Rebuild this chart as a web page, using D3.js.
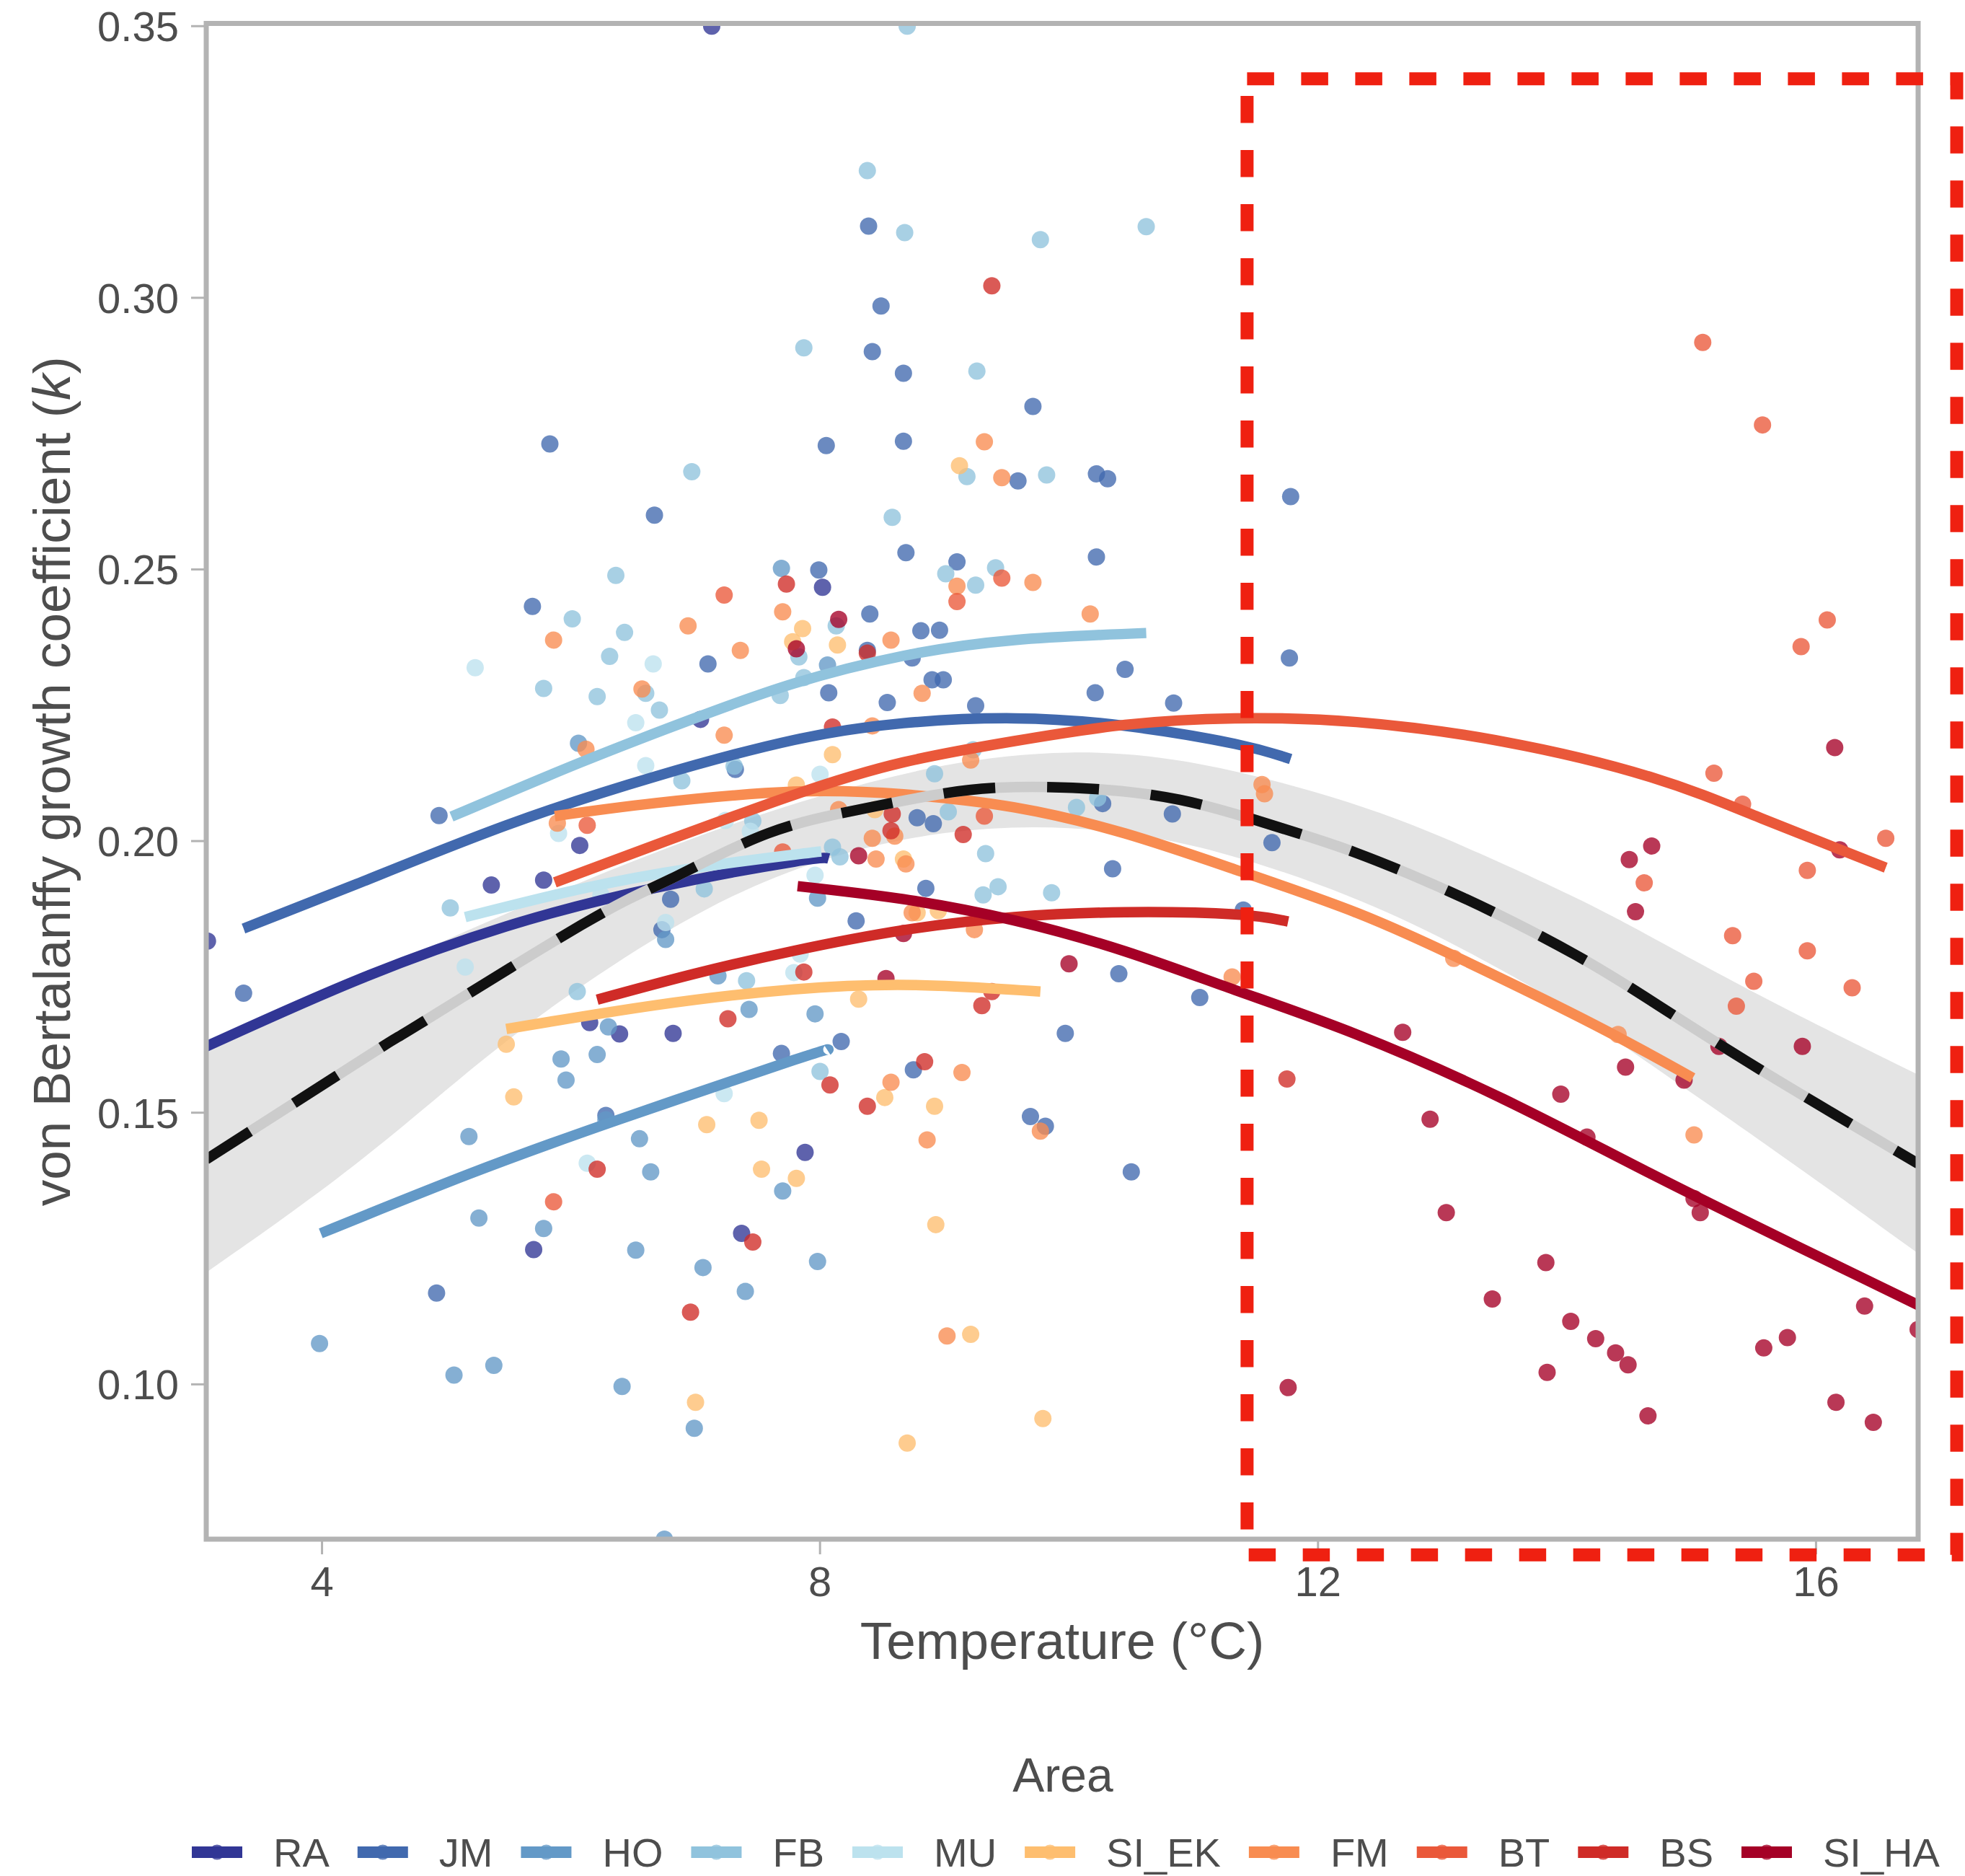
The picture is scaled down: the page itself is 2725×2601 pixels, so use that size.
<!DOCTYPE html>
<html>
<head>
<meta charset="UTF-8">
<title>von Bertalanffy k vs temperature</title>
<script src="https://cdnjs.cloudflare.com/ajax/libs/d3/7.8.5/d3.min.js"></script>
<style>
  body { margin: 0; padding: 0; background: #fff; }
  text { font-family: "Liberation Sans", Arial, Helvetica, sans-serif; fill: #4d4d4d; }
</style>
</head>
<body>
<div id="chart"></div>
<script>
// areas and colours (legend order)
const areas = ["RA", "JM", "HO", "FB", "MU", "SI_EK", "FM", "BT", "BS", "SI_HA"];
const areaColors = ["#313695", "#4169ae", "#6399c7", "#90c3dd", "#bce2ee",
                    "#febe6f", "#f88c51", "#ea583a", "#cf2b27", "#a50026"];

const xTicks = [4, 8, 12, 16];
const yTicks = [0.10, 0.15, 0.20, 0.25, 0.30, 0.35];

// observations: [temperature, k]
const ptsRA = [[7.13,0.3500],[7.04,0.2224],[6.07,0.1992],[5.36,0.1919],[5.78,0.1928],[3.08,0.1816],
  [6.15,0.1666],[6.39,0.1645],[6.82,0.1646],[8.02,0.2467],[5.70,0.1248],[7.37,0.1278],[7.88,0.1427]];
const ptsJM = [[5.83,0.2731],[6.67,0.2600],[8.39,0.3132],[8.49,0.2985],[8.42,0.2901],[8.67,0.2861],
  [9.71,0.2800],[8.05,0.2728],[8.67,0.2736],[9.59,0.2663],[10.22,0.2676],[10.31,0.2667],[11.78,0.2634],
  [5.69,0.2432],[7.10,0.2326],[7.32,0.2132],[4.94,0.2047],[6.80,0.1893],[6.73,0.1837],[3.37,0.1720],
  [8.69,0.2531],[7.99,0.2499],[9.10,0.2514],[10.22,0.2523],[8.40,0.2418],[8.38,0.2351],[8.81,0.2387],
  [8.96,0.2388],[8.74,0.2337],[8.07,0.2273],[8.90,0.2297],[8.99,0.2297],[8.54,0.2255],[9.25,0.2249],
  [10.45,0.2316],[10.21,0.2273],[10.84,0.2254],[11.77,0.2337],[8.78,0.2043],[8.91,0.2032],[10.27,0.2069],
  [10.83,0.2050],[11.63,0.1997],[10.35,0.1949],[8.85,0.1913],[8.29,0.1853],[11.40,0.1873],[10.40,0.1756],
  [11.05,0.1712],[8.17,0.1631],[9.97,0.1646],[7.69,0.1609],[6.28,0.1495],[4.92,0.1168],[8.75,0.1579],
  [9.69,0.1493],[9.81,0.1475],[10.50,0.1391]];
const ptsHO = [[7.69,0.2502],[6.06,0.2180],[6.76,0.1819],[7.18,0.1752],[7.43,0.1690],[6.30,0.1658],
  [8.06,0.2324],[7.98,0.1895],[7.96,0.1682],[5.92,0.1599],[6.21,0.1607],[5.96,0.1560],[6.28,0.1487],
  [5.18,0.1456],[6.55,0.1452],[6.64,0.1391],[7.70,0.1356],[5.26,0.1306],[5.78,0.1287],[6.52,0.1247],
  [7.06,0.1215],[7.40,0.1171],[3.98,0.1075],[5.06,0.1017],[5.38,0.1035],[6.41,0.0996],[6.99,0.0919],
  [6.75,0.0715],[7.98,0.1226]];
const ptsFB = [[6.97,0.2680],[8.70,0.3500],[8.38,0.3234],[8.68,0.3120],[9.77,0.3107],[10.62,0.3131],
  [7.87,0.2908],[9.26,0.2865],[9.18,0.2671],[9.82,0.2674],[8.58,0.2596],[6.36,0.2489],[6.01,0.2409],
  [6.43,0.2384],[6.31,0.2340],[5.78,0.2281],[6.21,0.2266],[6.60,0.2272],[6.71,0.2241],[7.68,0.2268],
  [7.31,0.2138],[6.89,0.2111],[7.46,0.2037],[5.03,0.1877],[7.07,0.1912],[7.41,0.1743],[6.05,0.1723],
  [9.01,0.2492],[9.41,0.2503],[9.25,0.2471],[8.13,0.2396],[7.83,0.2339],[7.87,0.2301],[9.23,0.2168],
  [8.92,0.2124],[9.03,0.2054],[10.06,0.2062],[10.23,0.2079],[8.10,0.1989],[8.16,0.1971],[9.33,0.1977],
  [9.43,0.1916],[9.31,0.1901],[9.86,0.1905],[8.00,0.1576]];
const ptsMU = [[5.23,0.2319],[6.66,0.2326],[6.52,0.2218],[6.60,0.2139],[5.90,0.2014],[7.24,0.2038],
  [7.44,0.2018],[6.24,0.1901],[6.76,0.1850],[5.15,0.1768],[7.79,0.1758],[8.00,0.2123],[7.96,0.1937],
  [7.84,0.1792],[7.23,0.1535],[6.13,0.1407]];
const ptsSI_EK = [[9.12,0.2691],[7.78,0.2367],[5.48,0.1626],[7.86,0.2391],[8.14,0.2361],[8.10,0.2159],
  [7.81,0.2103],[8.44,0.2058],[8.67,0.1967],[8.78,0.1868],[8.95,0.1872],[8.31,0.1709],[5.54,0.1529],
  [7.09,0.1478],[7.51,0.1486],[7.53,0.1396],[7.81,0.1379],[7.00,0.0967],[8.52,0.1528],[8.92,0.1512],
  [8.93,0.1294],[9.21,0.1092],[9.79,0.0937],[8.70,0.0892]];
const ptsFM = [[9.32,0.2735],[9.46,0.2669],[7.70,0.2422],[5.86,0.2370],[6.94,0.2396],[7.36,0.2351],
  [6.57,0.2280],[7.23,0.2195],[6.12,0.2169],[5.89,0.2033],[7.33,0.1953],[9.10,0.2469],[9.71,0.2476],
  [8.57,0.2370],[10.17,0.2418],[8.82,0.2272],[8.42,0.2212],[9.21,0.2149],[8.15,0.2058],[8.60,0.2009],
  [8.42,0.2005],[11.55,0.2104],[11.57,0.2087],[8.45,0.1967],[8.69,0.1958],[8.74,0.1868],[9.24,0.1837],
  [11.31,0.1750],[8.57,0.1556],[9.14,0.1574],[9.77,0.1466],[8.86,0.1450],[9.02,0.1089],[13.09,0.1784],
  [14.41,0.1644],[15.02,0.1459]];
const ptsBT = [[7.23,0.2453],[6.13,0.2029],[7.70,0.1980],[9.46,0.2484],[9.10,0.2441],[9.32,0.2046],
  [5.86,0.1336],[16.09,0.2407],[15.88,0.2358],[15.18,0.2125],[15.41,0.2068],[16.56,0.2005],[14.62,0.1923],
  [15.93,0.1946],[15.33,0.1826],[15.93,0.1798],[15.50,0.1742],[16.29,0.1730],[15.36,0.1696],
  [15.09,0.2918],[15.57,0.2766]];
const ptsBS = [[9.38,0.3022],[7.73,0.2473],[7.26,0.1673],[8.38,0.2346],[8.10,0.2210],[8.58,0.2050],
  [8.57,0.2019],[9.15,0.2012],[7.87,0.1759],[9.38,0.1723],[9.30,0.1697],[6.21,0.1396],[7.46,0.1262],
  [6.96,0.1133],[8.08,0.1551],[8.84,0.1594],[8.38,0.1512],[11.75,0.1562]];
const ptsSI_HA = [[7.81,0.2354],[8.15,0.2408],[8.31,0.1973],[8.67,0.1830],[10.00,0.1774],[8.53,0.1747],
  [11.76,0.0994],[16.15,0.2172],[16.19,0.1984],[14.68,0.1991],[14.50,0.1966],[14.55,0.1870],[12.68,0.1648],
  [12.90,0.1488],[13.03,0.1316],[13.95,0.1534],[14.16,0.1455],[14.47,0.1584],[14.94,0.1560],[15.22,0.1622],
  [15.89,0.1622],[15.02,0.1342],[15.07,0.1316],[13.83,0.1224],[13.40,0.1157],[14.03,0.1116],[14.23,0.1084],
  [14.39,0.1058],[14.49,0.1036],[13.84,0.1022],[14.65,0.0942],[15.58,0.1067],[15.77,0.1086],[16.39,0.1144],
  [16.82,0.1101],[16.16,0.0967],[16.46,0.0930]];

// fitted curve per area
const fitRA = [[3.07,0.1622],[4.28,0.1744],[5.48,0.1843],[6.68,0.1914],[7.79,0.1962],[8.07,0.1968]];
const fitJM = [[3.37,0.1839],[4.28,0.1921],[5.48,0.2029],[6.68,0.2119],[7.79,0.2186],[8.67,0.2217],
  [9.56,0.2226],[10.45,0.2212],[11.33,0.2179],[11.78,0.2151]];
const fitHO = [[3.99,0.1278],[5.18,0.1387],[6.38,0.1487],[7.79,0.1597],[8.06,0.1615]];
const fitFB = [[5.04,0.2045],[6.08,0.2145],[6.98,0.2225],[7.79,0.2290],[8.67,0.2341],[9.56,0.2370],[10.62,0.2383]];
const fitMU = [[5.15,0.1860],[6.08,0.1912],[6.98,0.1950],[7.79,0.1975],[8.01,0.1981]];
const fitSI_EK = [[5.48,0.1654],[6.68,0.1698],[7.79,0.1727],[8.76,0.1735],[9.77,0.1723]];
const fitFM = [[5.87,0.2046],[6.68,0.2070],[7.79,0.2091],[8.67,0.2086],[9.56,0.2062],[10.45,0.2014],
  [11.33,0.1948],[12.31,0.1868],[13.20,0.1777],[14.22,0.1662],[15.01,0.1564]];
const fitBT = [[5.87,0.1924],[6.68,0.1993],[7.79,0.2085],[8.67,0.2145],[9.56,0.2184],[10.45,0.2214],
  [11.33,0.2226],[12.31,0.2219],[13.49,0.2183],[14.67,0.2118],[15.56,0.2042],[16.56,0.1951]];
const fitBS = [[6.21,0.1708],[6.98,0.1755],[7.79,0.1798],[8.67,0.1836],[9.56,0.1860],[10.45,0.1869],
  [11.33,0.1865],[11.76,0.1852]];
const fitSI_HA = [[7.82,0.1917],[8.67,0.1893],[9.56,0.1854],[10.45,0.1797],[11.33,0.1726],[12.31,0.1644],
  [13.49,0.1525],[14.67,0.1388],[15.85,0.1254],[16.82,0.1146]];

// pooled fit and its confidence band
const fitAll = [[3.07,0.1414],[4.46,0.1618],[4.76,0.1660],[6.08,0.1845],[6.80,0.1930],[7.58,0.2014],
  [8.38,0.2061],[9.20,0.2094],[10.03,0.2098],[10.89,0.2076],[11.69,0.2025],[12.31,0.1978],[13.19,0.1893],
  [14.08,0.1789],[14.73,0.1698],[15.44,0.1595],[16.15,0.1497],[16.82,0.1406]];
const bandX  = [3.07, 4.28, 5.31, 6.08, 7.07, 8.0, 9.0, 10.0, 11.0, 12.31, 13.19, 14.08, 14.55, 15.56, 16.82];
const bandLo = [0.1206,0.1400,0.1605,0.1735,0.1880,0.1970,0.2022,0.2030,0.2000,0.1899,0.1800,0.1685,0.1607,0.1449,0.1241];
const bandHi = [0.1618,0.1745,0.1850,0.1925,0.2015,0.2085,0.2145,0.2170,0.2152,0.2072,0.1990,0.1896,0.1840,0.1712,0.1570];

// highlighted region (data units)
const boxX = [11.43, 17.13];
const boxY = [0.0686, 0.3403];

const areaPoints = [ptsRA, ptsJM, ptsHO, ptsFB, ptsMU, ptsSI_EK, ptsFM, ptsBT, ptsBS, ptsSI_HA];
const areaFits = [fitRA, fitJM, fitHO, fitFB, fitMU, fitSI_EK, fitFM, fitBT, fitBS, fitSI_HA];

const width = 2725, height = 2601;
const panel = { left: 286, right: 2660, top: 32.5, bottom: 2134 };
const lineW = 14.5;

const x = d3.scaleLinear().domain([3.07, 16.82]).range([panel.left, panel.right]);
const y = d3.scaleLinear().domain([0.0715, 0.3505]).range([panel.bottom, panel.top]);

const svg = d3.select("#chart").append("svg")
  .attr("width", width).attr("height", height);

svg.append("rect").attr("width", width).attr("height", height).attr("fill", "#fff");

svg.append("clipPath").attr("id", "panel-clip")
  .append("rect")
  .attr("x", panel.left).attr("y", panel.top)
  .attr("width", panel.right - panel.left).attr("height", panel.bottom - panel.top);

const plot = svg.append("g").attr("clip-path", "url(#panel-clip)");

// confidence band
const band = bandX.map((d, i) => ({ x: d, lo: bandLo[i], hi: bandHi[i] }));
plot.append("path")
  .datum(band)
  .attr("fill", "#e4e4e4")
  .attr("d", d3.area().x(d => x(d.x)).y0(d => y(d.lo)).y1(d => y(d.hi)).curve(d3.curveBasis));

// points
areaPoints.forEach((pts, i) => {
  plot.append("g").selectAll("circle")
    .data(pts).enter().append("circle")
    .attr("cx", d => x(d[0]))
    .attr("cy", d => y(d[1]))
    .attr("r", 12)
    .attr("fill", areaColors[i])
    .attr("fill-opacity", 0.78);
});

// per area fits
const line = d3.line().x(d => x(d[0])).y(d => y(d[1])).curve(d3.curveNatural);
areaFits.forEach((fit, i) => {
  plot.append("path")
    .datum(fit)
    .attr("fill", "none")
    .attr("stroke", areaColors[i])
    .attr("stroke-width", lineW)
    .attr("d", line);
});

// pooled fit: grey line under a black dashed one
plot.append("path").datum(fitAll)
  .attr("fill", "none").attr("stroke", "#cccccc").attr("stroke-width", lineW)
  .attr("d", line);
plot.append("path").datum(fitAll)
  .attr("fill", "none").attr("stroke", "#111111").attr("stroke-width", lineW)
  .attr("stroke-dasharray", "72,72")
  .attr("d", line);

// panel border
svg.append("rect")
  .attr("x", panel.left).attr("y", panel.top)
  .attr("width", panel.right - panel.left).attr("height", panel.bottom - panel.top)
  .attr("fill", "none").attr("stroke", "#b3b3b3").attr("stroke-width", 7);

// y axis
const yAxis = svg.append("g");
yTicks.forEach(t => {
  yAxis.append("line")
    .attr("x1", panel.left - 21).attr("x2", panel.left - 3)
    .attr("y1", y(t)).attr("y2", y(t))
    .attr("stroke", "#b3b3b3").attr("stroke-width", 3);
  yAxis.append("text")
    .attr("x", 248).attr("y", y(t)).attr("dy", "0.36em")
    .attr("text-anchor", "end")
    .attr("font-size", 58)
    .text(d3.format(".2f")(t));
});

// x axis
const xAxis = svg.append("g");
xTicks.forEach(t => {
  xAxis.append("line")
    .attr("x1", x(t)).attr("x2", x(t))
    .attr("y1", panel.bottom + 3).attr("y2", panel.bottom + 21)
    .attr("stroke", "#b3b3b3").attr("stroke-width", 3);
  xAxis.append("text")
    .attr("x", x(t)).attr("y", 2213)
    .attr("text-anchor", "middle")
    .attr("font-size", 58)
    .text(t);
});

// axis titles
svg.append("text")
  .attr("x", (panel.left + panel.right) / 2).attr("y", 2300)
  .attr("text-anchor", "middle").attr("font-size", 73)
  .text("Temperature (°C)");

const yTitle = svg.append("text")
  .attr("transform", `translate(97, ${(panel.top + panel.bottom) / 2}) rotate(-90)`)
  .attr("text-anchor", "middle").attr("font-size", 73);
yTitle.append("tspan").text("von Bertalanffy growth coefficient (");
yTitle.append("tspan").attr("font-style", "italic").text("k");
yTitle.append("tspan").text(")");

// red dashed highlight box (drawn outside the clip)
svg.append("path")
  .attr("d", `M${x(boxX[0])},${y(boxY[1])} H${x(boxX[1])} V${y(boxY[0])} H${x(boxX[0])} Z`)
  .attr("fill", "none")
  .attr("stroke", "#ef2011")
  .attr("stroke-width", 18)
  .attr("stroke-dasharray", "37.5,37.5");

// legend
svg.append("text")
  .attr("x", 1474).attr("y", 2484)
  .attr("text-anchor", "middle").attr("font-size", 66)
  .text("Area");

const legend = svg.append("g");
let lx = 266;
const ly = 2568;
areas.forEach((a, i) => {
  const item = legend.append("g");
  item.append("circle")
    .attr("cx", lx + 35).attr("cy", ly).attr("r", 10.5)
    .attr("fill", areaColors[i]).attr("fill-opacity", 0.78);
  item.append("line")
    .attr("x1", lx).attr("x2", lx + 70)
    .attr("y1", ly).attr("y2", ly)
    .attr("stroke", areaColors[i]).attr("stroke-width", 16);
  const label = item.append("text")
    .attr("x", lx + 113).attr("y", 2588)
    .attr("font-size", 56)
    .text(a);
  lx += 113 + label.node().getComputedTextLength() + 39;
});
</script>
</body>
</html>
